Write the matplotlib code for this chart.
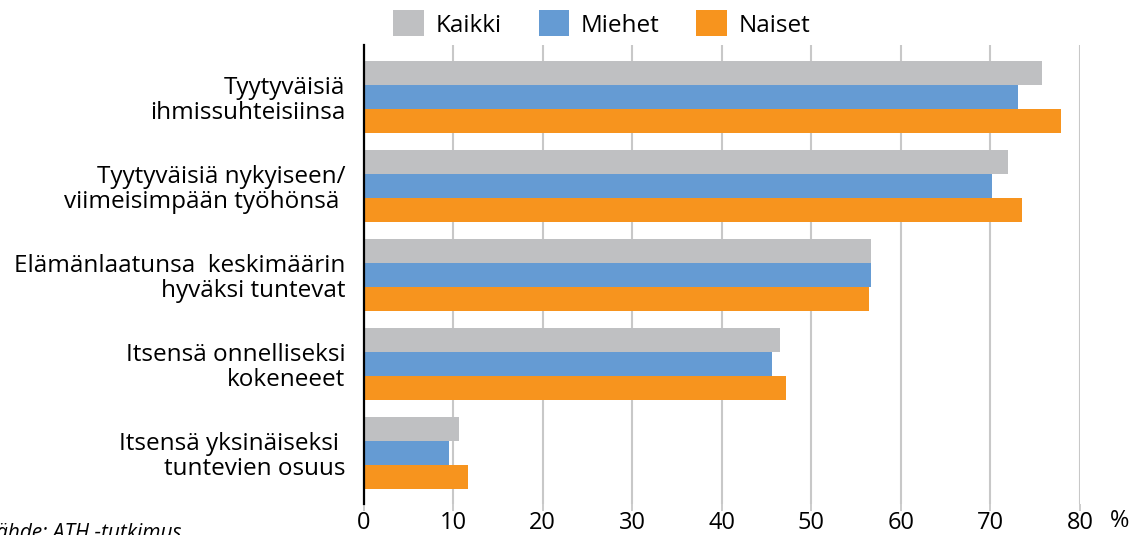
import matplotlib
matplotlib.use("Agg")
import matplotlib.pyplot as plt
import numpy as np

categories = [
    "Tyytyväisiä\nihmissuhteisiinsa",
    "Tyytyväisiä nykyiseen/\nviimeisimpään työhönsä ",
    "Elämänlaatunsa  keskimäärin\nhyväksi tuntevat",
    "Itsensä onnelliseksi\nkokeneeet",
    "Itsensä yksinäiseksi \ntuntevien osuus",
]
series_names = ["Kaikki", "Miehet", "Naiset"]
kaikki = [75.8, 72.0, 56.7, 46.5, 10.7]
miehet = [73.1, 70.2, 56.7, 45.6, 9.5]
naiset = [77.9, 73.5, 56.4, 47.2, 11.7]
xticks = [0, 10, 20, 30, 40, 50, 60, 70, 80]
colors = ["#BFC0C2", "#659BD3", "#F7941E"]

plt.rcParams['font.family'] = ['Open Sans', 'DejaVu Sans']

W, H = 1142, 535
fig = plt.figure(figsize=(W / 100, H / 100), dpi=100)
ax = fig.add_axes([363.5 / W, (H - 504) / H, (1080 - 363.5) / W, (504 - 45) / H])

y = np.arange(len(categories))
bh = 0.27
for i, (vals, name, c) in enumerate(zip([kaikki, miehet, naiset], series_names, colors)):
    ax.barh(y + (i - 1) * bh, vals, height=bh, color=c, label=name, zorder=3)

ax.set_ylim(4.575, -0.585)
ax.set_xlim(0, 80)
ax.set_xticks(xticks)
ax.set_xticklabels([str(t) for t in xticks], fontsize=17)
ax.set_yticks(y)
ax.set_yticklabels(categories, fontsize=17.5, linespacing=1.08)
ax.tick_params(axis='y', length=0, pad=13)
ax.tick_params(axis='x', length=5, color='#C8C8C8', width=1.3, pad=0)
ax.grid(axis='x', color='#C8C8C8', linewidth=1.5, zorder=0)
for s in ['top', 'right', 'bottom']:
    ax.spines[s].set_visible(False)
ax.spines['left'].set_color('black')
ax.spines['left'].set_linewidth(1.6)
ax.spines['left'].set_zorder(4)

fig.text(1110 / W, (H - 521) / H, "%", fontsize=17, ha='left', va='center')
fig.text(-14 / W, (H - 523) / H, "Lähde: ATH -tutkimus", fontsize=15, style='italic',
         ha='left', va='top')

leg = fig.legend(loc='center', bbox_to_anchor=(602 / W, (H - 24) / H), ncol=3, frameon=False,
                 fontsize=17.5, handlelength=1.25, handleheight=1.25, handletextpad=0.5,
                 columnspacing=1.5)

fig.savefig("out.png", dpi=100)
